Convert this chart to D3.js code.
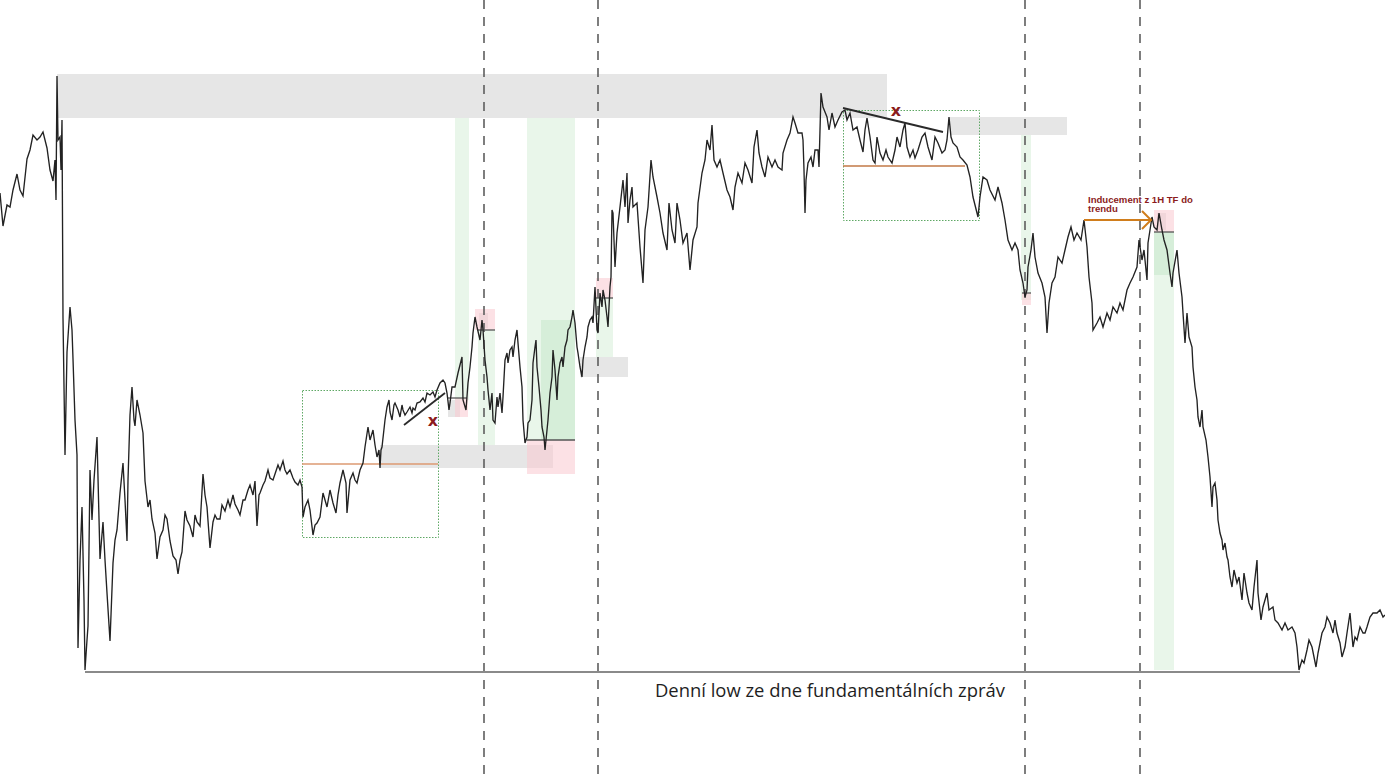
<!DOCTYPE html>
<html><head><meta charset="utf-8">
<script src="https://cdn.jsdelivr.net/npm/d3@7/dist/d3.min.js"></script>
<style>html,body{margin:0;padding:0;background:#fff;overflow:hidden}</style>
</head><body>
<svg id="c" width="1385" height="779"></svg>
<script>
// price path: [bar index, price in points]
const pricePath = [[0,807],[3,774],[7,795],[10,793],[13,810],[17,826],[20,810],[23,804],[27,841],[30,850],[33,865],[37,860],[40,863],[43,868],[47,852],[50,830],[53,819],[55,840],[56,800],[57,924],[58,860],[60,863],[61,830],[62,880],[63,682],[65,545],[67,648],[70,693],[72,670],[73,641],[75,580],[77,545],[78,352],[80,440],[82,493],[84,400],[85,330],[87,360],[88,374],[90,530],[92,480],[94,520],[97,563],[100,441],[103,478],[105,440],[107,407],[110,359],[113,437],[115,460],[117,470],[120,507],[123,537],[125,500],[127,459],[128,520],[130,585],[132,613],[134,580],[135,574],[137,600],[140,585],[143,567],[145,519],[148,493],[150,500],[152,481],[155,467],[157,441],[160,463],[163,470],[165,485],[167,481],[170,459],[173,444],[176,440],[178,426],[180,440],[182,448],[185,489],[187,480],[190,474],[193,463],[195,485],[197,478],[200,474],[203,526],[205,505],[207,493],[210,452],[213,478],[215,485],[217,481],[220,481],[222,495],[225,489],[228,500],[230,493],[233,505],[235,496],[238,490],[240,485],[243,500],[245,500],[248,510],[250,515],[253,505],[255,519],[257,474],[259,505],[260,507],[263,515],[265,519],[268,530],[270,522],[273,520],[275,526],[278,535],[280,530],[283,539],[285,530],[287,526],[290,530],[293,522],[295,518],[298,515],[300,520],[302,513],[303,483],[305,493],[308,500],[310,490],[313,465],[315,475],[317,477],[320,483],[323,507],[325,500],[327,493],[330,510],[333,497],[336,487],[338,505],[340,517],[343,530],[346,517],[347,487],[350,520],[353,527],[355,520],[357,517],[360,530],[363,537],[365,553],[368,573],[370,560],[373,570],[375,555],[377,543],[379,550],[380,532],[381,550],[382,553],[385,580],[387,593],[389,600],[390,588],[392,580],[394,595],[395,597],[398,590],[400,583],[402,595],[403,590],[405,585],[407,588],[410,593],[412,587],[413,592],[415,590],[417,597],[420,598],[423,602],[425,598],[427,607],[430,605],[433,608],[435,603],[437,610],[440,617],[443,620],[445,617],[447,607],[449,590],[450,597],[452,613],[455,613],[458,627],[462,643],[463,600],[466,590],[468,617],[470,633],[472,653],[473,667],[475,683],[477,673],[480,660],[482,680],[483,670],[485,640],[487,623],[488,610],[490,590],[492,607],[493,580],[495,577],[497,603],[498,593],[500,607],[502,587],[503,603],[505,640],[507,647],[508,637],[510,650],[512,653],[513,643],[515,660],[517,670],[518,657],[520,633],[522,613],[523,580],[525,557],[527,563],[528,577],[530,580],[532,600],[533,637],[535,653],[536,660],[537,633],[539,613],[541,590],[542,573],[544,563],[545,550],[547,570],[548,580],[550,607],[552,623],[553,650],[555,630],[557,600],[558,623],[560,637],[562,643],[563,633],[565,653],[567,660],[568,670],[570,673],[572,683],[573,690],[575,677],[577,653],[578,647],[580,633],[582,623],[583,640],[585,653],[587,663],[588,673],[590,680],[592,683],[593,677],[595,713],[597,670],[598,667],[600,707],[602,693],[603,710],[605,700],[607,683],[608,673],[610,713],[611,723],[612,790],[613,787],[615,733],[617,767],[620,793],[623,820],[625,793],[627,827],[628,777],[630,800],[632,813],[633,793],[637,797],[640,753],[643,717],[645,770],[648,793],[651,840],[653,823],[657,803],[660,787],[663,767],[667,750],[669,797],[672,770],[675,757],[677,797],[680,780],[683,757],[687,767],[690,730],[693,760],[697,773],[698,797],[702,827],[705,840],[707,860],[710,850],[712,875],[714,840],[717,833],[720,840],[723,827],[727,810],[730,803],[733,790],[735,813],[738,827],[742,817],[745,837],[748,830],[752,817],[754,853],[757,870],[759,847],[762,833],[765,823],[768,843],[772,833],[775,840],[778,833],[782,830],[783,847],[787,860],[790,867],[793,883],[795,877],[798,867],[802,867],[803,860],[804,830],[805,787],[806,820],[808,837],[811,843],[813,833],[815,850],[818,850],[819,833],[821,907],[823,893],[827,883],[829,870],[832,887],[835,873],[838,880],[842,888],[845,890],[847,880],[850,887],[853,870],[857,873],[860,860],[863,848],[865,870],[867,882],[870,863],[873,840],[875,837],[877,863],[880,847],[883,840],[886,850],[888,843],[892,837],[895,850],[897,863],[900,853],[903,870],[905,877],[907,853],[910,843],[913,850],[915,842],[918,850],[922,863],[925,867],[928,853],[932,840],[935,863],[938,857],[942,847],[945,850],[947,860],[949,883],[951,863],[953,857],[957,853],[960,843],[963,840],[967,835],[970,823],[973,803],[977,787],[978,783],[980,803],[983,823],[987,820],[990,810],[995,800],[998,813],[1002,797],[1005,780],[1008,760],[1012,750],[1015,757],[1018,750],[1020,730],[1023,717],[1025,703],[1027,710],[1028,733],[1031,750],[1033,767],[1035,743],[1038,727],[1042,717],[1045,703],[1047,667],[1049,697],[1052,717],[1055,723],[1058,743],[1062,737],[1065,750],[1068,763],[1071,773],[1074,760],[1077,767],[1081,760],[1084,780],[1087,753],[1089,723],[1092,697],[1093,670],[1097,677],[1100,683],[1103,673],[1107,687],[1110,680],[1113,693],[1117,687],[1120,697],[1123,690],[1127,710],[1130,717],[1133,723],[1137,733],[1139,760],[1142,740],[1144,750],[1147,720],[1148,757],[1152,783],[1154,773],[1157,770],[1159,787],[1162,770],[1164,760],[1167,750],[1170,727],[1172,713],[1173,727],[1177,750],[1179,727],[1182,703],[1183,687],[1185,657],[1187,687],[1189,663],[1192,653],[1193,633],[1195,613],[1197,600],[1198,583],[1200,573],[1202,590],[1203,573],[1206,560],[1208,543],[1210,523],[1212,493],[1213,513],[1215,517],[1217,500],[1218,480],[1220,467],[1222,460],[1223,450],[1225,457],[1227,443],[1228,440],[1230,423],[1232,413],[1234,430],[1237,417],[1239,423],[1242,400],[1244,427],[1247,407],[1249,397],[1252,390],[1254,413],[1257,440],[1258,407],[1261,380],[1263,393],[1267,407],[1269,390],[1273,393],[1275,380],[1278,377],[1282,370],[1285,377],[1288,370],[1292,373],[1295,367],[1297,353],[1299,330],[1302,340],[1304,337],[1307,350],[1309,360],[1312,353],[1314,343],[1316,333],[1318,347],[1322,367],[1325,373],[1327,383],[1330,377],[1333,367],[1335,380],[1337,367],[1340,357],[1342,343],[1345,353],[1347,367],[1350,387],[1353,353],[1355,363],[1357,360],[1360,373],[1363,367],[1365,367],[1367,373],[1370,383],[1373,387],[1377,387],[1380,390],[1383,383],[1385,385]];

// zones: [barFrom, barTo, priceTop, priceBottom]
const grayZones = [[57,887,926,882],[380,553,555,532],[580,628,643,623],[950,1067,883,865],[448,460,600,583],[479,488,687,672],[1157,1166,787,770]];
const greenBands = [[455,469,882,600],[478,495,670,555],[527,575,882,560],[596,613,702,643],[1021,1031,865,700],[1154,1174,768,330]];
const greenDark = [[541,575,680,560],[1154,1174,768,725]];
const pinkBoxes = [[475,495,691,670],[455,468,602,583],[527,575,560,526],[596,613,722,702],[1154,1174,790,768],[1022,1031,707,695]];
const dottedBoxes = [[302,438,610,463],[843,979,890,780]];
// levels: [barFrom, barTo, price]
const orangeLevels = [[302,438,536],[843,965,834]];
const darkLevels = [[478,495,670],[527,575,560],[596,613,702],[1154,1174,768],[448,467,602],[1022,1031,707]];
const trendLines = [[404,575,445,607],[843,892,943,868]];
const dailyLow = [85,1300,328];
const newsBars = [484,598,1025,1140];
const failMarks = [[433,579],[896,889]];
const inducementArrow = [1084,1151,780];
const lowLabel = "Denní low ze dne fundamentálních zpráv";
const inducementLabel = ["Inducement z 1H TF do","trendu"];

const svg = d3.select("#c");
const x = d3.scaleLinear().domain([0,1385]).range([0,1385]);
const y = d3.scaleLinear().domain([0,1000]).range([1000,0]);

function rects(data, fill, op){
  svg.append("g").selectAll("rect").data(data).join("rect")
    .attr("x", d=>x(d[0])).attr("width", d=>x(d[1])-x(d[0]))
    .attr("y", d=>y(d[2])).attr("height", d=>y(d[3])-y(d[2]))
    .attr("fill", fill).attr("fill-opacity", op);
}
rects(greenBands, "#e3f4e5", 0.8);
rects(greenDark, "#cdebd1", 0.7);
rects(grayZones, "#dcdcdc", 0.7);
rects(pinkBoxes, "#f9c9cf", 0.55);

svg.append("g").selectAll("rect").data(dottedBoxes).join("rect")
  .attr("x", d=>x(d[0])+0.5).attr("width", d=>x(d[1])-x(d[0]))
  .attr("y", d=>y(d[2])+0.5).attr("height", d=>y(d[3])-y(d[2]))
  .attr("fill","none").attr("stroke","#5fa865").attr("stroke-width",1).attr("stroke-dasharray","1.5,1.5");

svg.append("g").selectAll("line").data(newsBars).join("line")
  .attr("x1", d=>x(d)).attr("x2", d=>x(d)).attr("y1",0).attr("y2",779)
  .attr("stroke","#5e5e5e").attr("stroke-width",1.6).attr("stroke-dasharray","9,8");

svg.append("line").attr("x1",x(dailyLow[0])).attr("x2",x(dailyLow[1]))
  .attr("y1",y(dailyLow[2])).attr("y2",y(dailyLow[2]))
  .attr("stroke","#8a8a8a").attr("stroke-width",2);

svg.append("g").selectAll("line").data(orangeLevels).join("line")
  .attr("x1", d=>x(d[0])).attr("x2", d=>x(d[1])).attr("y1", d=>y(d[2])).attr("y2", d=>y(d[2]))
  .attr("stroke", (d,i)=> i===0 ? "#dc9a72" : "#c27846").attr("stroke-width",1.5);

svg.append("g").selectAll("line").data(darkLevels).join("line")
  .attr("x1", d=>x(d[0])).attr("x2", d=>x(d[1])).attr("y1", d=>y(d[2])).attr("y2", d=>y(d[2]))
  .attr("stroke","#555").attr("stroke-width",1.3);

const line = d3.line().x(d=>x(d[0])).y(d=>y(d[1]));
svg.append("path").datum(pricePath).attr("d", line)
  .attr("fill","none").attr("stroke","#222").attr("stroke-width",1.35).attr("stroke-linejoin","miter");

svg.append("g").selectAll("line").data(trendLines).join("line")
  .attr("x1", d=>x(d[0])).attr("y1", d=>y(d[1])).attr("x2", d=>x(d[2])).attr("y2", d=>y(d[3]))
  .attr("stroke","#2a2a2a").attr("stroke-width",1.8);

svg.append("g").selectAll("text").data(failMarks).join("text")
  .attr("x", d=>x(d[0])).attr("y", d=>y(d[1])+5)
  .attr("text-anchor","middle").attr("font-family","DejaVu Sans, sans-serif")
  .attr("font-weight","bold").attr("font-size",16).attr("fill","#8b1c1c").text("x");

const ay = y(inducementArrow[2]);
svg.append("line").attr("x1",x(inducementArrow[0])).attr("x2",x(inducementArrow[1]))
  .attr("y1",ay).attr("y2",ay).attr("stroke","#d07d1c").attr("stroke-width",2);
svg.append("path").attr("d",`M${x(inducementArrow[1])-9},${ay-9}L${x(inducementArrow[1])},${ay}L${x(inducementArrow[1])-9},${ay+9}`)
  .attr("fill","none").attr("stroke","#d07d1c").attr("stroke-width",2);

const ind = svg.append("g").attr("font-family","Liberation Sans, Arial, sans-serif")
  .attr("font-weight","bold").attr("fill","#8b1c1c").attr("font-size",10);
ind.selectAll("text").data(inducementLabel).join("text")
  .attr("x", x(1088)).attr("y",(d,i)=> y(797) + i*9).text(d=>d);
const w0 = ind.select("text").node().getComputedTextLength();
ind.attr("font-size", 10*105/w0);

const lbl = svg.append("text").attr("x", x(655)).attr("y", y(303))
  .attr("font-family","Open Sans, Noto Sans, sans-serif").attr("font-size",18).attr("fill","#1e1e1e").text(lowLabel);
const wl = lbl.node().getComputedTextLength();
lbl.attr("font-size", 18*350/wl);
</script>
</body></html>
